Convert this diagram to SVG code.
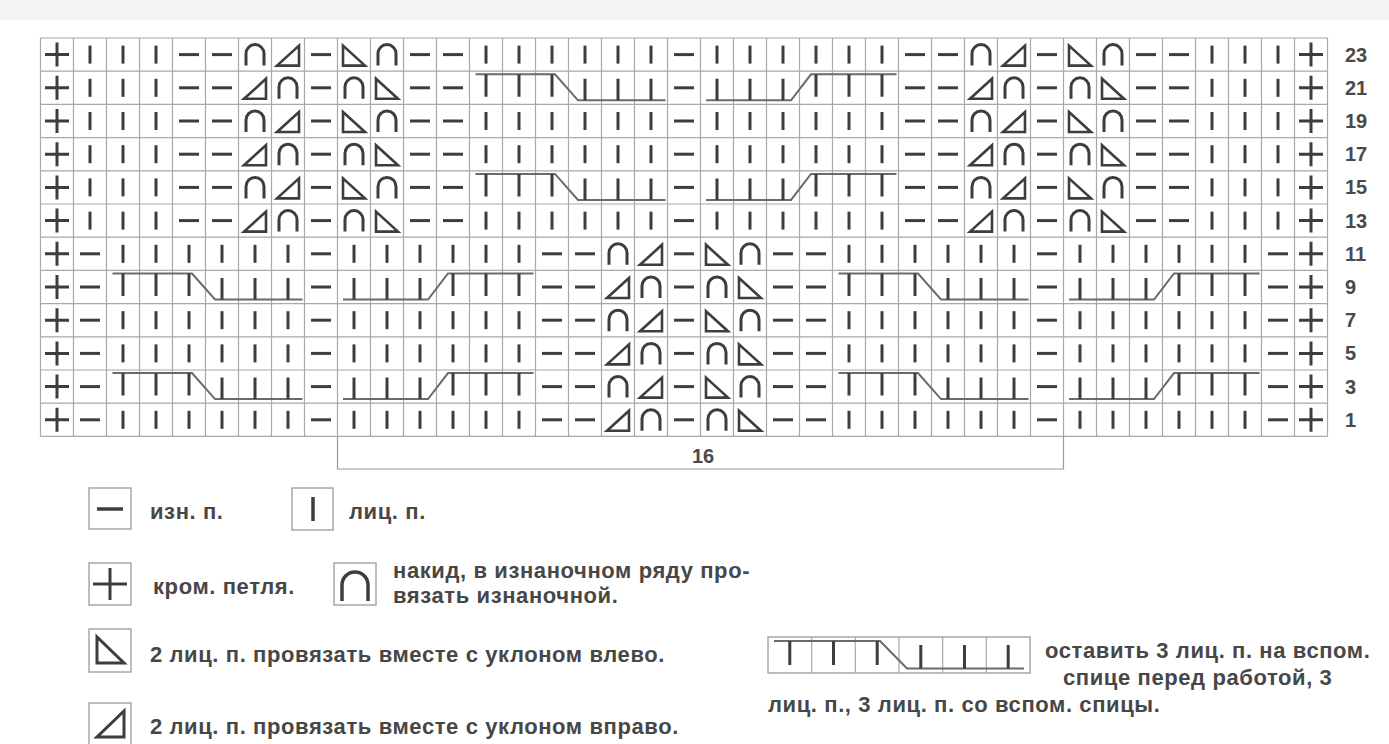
<svg xmlns="http://www.w3.org/2000/svg" xmlns:xlink="http://www.w3.org/1999/xlink" width="1389" height="744" viewBox="0 0 1389 744">
<style>
.g{stroke:#a8a8a8;stroke-width:1.2;fill:none}
.s{stroke:#3d3d3d;stroke-width:3;fill:none}
.t{stroke:#3d3d3d;stroke-width:2.6;fill:none;stroke-linejoin:miter}
.c{stroke:#6a6a6a;stroke-width:2;fill:none}
.bx{stroke:#9a9a9a;stroke-width:1.3;fill:#fff}
.num{font-family:"Liberation Sans",Arial,sans-serif;font-size:20px;font-weight:bold;fill:#4a4a4a}
.lg{font-family:"Liberation Sans",Arial,sans-serif;font-size:22px;font-weight:bold;fill:#474747;letter-spacing:0.6px}
</style>
<defs>
<path id="k" class="s" d="M0 -9V9"/>
<path id="p" class="s" d="M-10 0H10"/>
<path id="e" class="s" d="M-12 0H12M0 -12V12"/>
<path id="yo" class="s" d="M-9 11V-1A9 9 0 0 1 9 -1V11"/>
<path id="rt" class="t" d="M-11 11H11V-9Z"/>
<path id="lt" class="t" d="M-11 -9V11H11Z"/>
<g id="plain6">
<use href="#k" x="0"/><use href="#k" x="33"/><use href="#k" x="66"/><use href="#k" x="99"/><use href="#k" x="132"/><use href="#k" x="165"/>
</g>
<g id="cl">
<path class="c" d="M-10.5 -13.5H69L92 12.5H179.5"/>
<path class="s" d="M0 -13.5V9M33 -13.5V9M66 -13.5V9M99 -9V12.5M132 -9V12.5M165 -9V12.5"/>
</g>
<g id="cr">
<path class="c" d="M-11 12.5H74L94 -13.5H179.5"/>
<path class="s" d="M0 -9V12.5M33 -9V12.5M66 -9V12.5M99 -13.5V9M132 -13.5V9M165 -13.5V9"/>
</g>
<g id="rowA">
<use href="#e" x="57"/><use href="#k" x="90"/><use href="#k" x="123"/><use href="#k" x="156"/>
<use href="#p" x="189"/><use href="#p" x="222"/>
<use href="#yo" x="255"/><use href="#rt" x="288"/><use href="#p" x="321"/><use href="#lt" x="354"/><use href="#yo" x="387"/>
<use href="#p" x="420"/><use href="#p" x="453"/>
<use href="#p" x="684"/>
<use href="#p" x="915"/><use href="#p" x="948"/>
<use href="#yo" x="981"/><use href="#rt" x="1014"/><use href="#p" x="1047"/><use href="#lt" x="1080"/><use href="#yo" x="1113"/>
<use href="#p" x="1146"/><use href="#p" x="1179"/>
<use href="#k" x="1212"/><use href="#k" x="1245"/><use href="#k" x="1278"/><use href="#e" x="1311"/>
</g>
<g id="rowB">
<use href="#e" x="57"/><use href="#k" x="90"/><use href="#k" x="123"/><use href="#k" x="156"/>
<use href="#p" x="189"/><use href="#p" x="222"/>
<use href="#rt" x="255"/><use href="#yo" x="288"/><use href="#p" x="321"/><use href="#yo" x="354"/><use href="#lt" x="387"/>
<use href="#p" x="420"/><use href="#p" x="453"/>
<use href="#p" x="684"/>
<use href="#p" x="915"/><use href="#p" x="948"/>
<use href="#rt" x="981"/><use href="#yo" x="1014"/><use href="#p" x="1047"/><use href="#yo" x="1080"/><use href="#lt" x="1113"/>
<use href="#p" x="1146"/><use href="#p" x="1179"/>
<use href="#k" x="1212"/><use href="#k" x="1245"/><use href="#k" x="1278"/><use href="#e" x="1311"/>
</g>
<g id="rowC">
<use href="#e" x="57"/><use href="#p" x="90"/><use href="#p" x="321"/>
<use href="#p" x="552"/><use href="#p" x="585"/>
<use href="#yo" x="618"/><use href="#rt" x="651"/><use href="#p" x="684"/><use href="#lt" x="717"/><use href="#yo" x="750"/>
<use href="#p" x="783"/><use href="#p" x="816"/>
<use href="#p" x="1047"/><use href="#p" x="1278"/><use href="#e" x="1311"/>
</g>
<g id="rowD">
<use href="#e" x="57"/><use href="#p" x="90"/><use href="#p" x="321"/>
<use href="#p" x="552"/><use href="#p" x="585"/>
<use href="#rt" x="618"/><use href="#yo" x="651"/><use href="#p" x="684"/><use href="#yo" x="717"/><use href="#lt" x="750"/>
<use href="#p" x="783"/><use href="#p" x="816"/>
<use href="#p" x="1047"/><use href="#p" x="1278"/><use href="#e" x="1311"/>
</g>
</defs>
<rect width="1389" height="744" fill="#fff"/>
<rect width="1389" height="20" fill="#f4f4f4"/>
<g id="grid">
<path class="g" d="M40.5 38V436.4M73.5 38V436.4M106.5 38V436.4M139.5 38V436.4M172.5 38V436.4M205.5 38V436.4M238.5 38V436.4M271.5 38V436.4M304.5 38V436.4M337.5 38V436.4M370.5 38V436.4M403.5 38V436.4M436.5 38V436.4M469.5 38V436.4M502.5 38V436.4M535.5 38V436.4M568.5 38V436.4M601.5 38V436.4M634.5 38V436.4M667.5 38V436.4M700.5 38V436.4M733.5 38V436.4M766.5 38V436.4M799.5 38V436.4M832.5 38V436.4M865.5 38V436.4M898.5 38V436.4M931.5 38V436.4M964.5 38V436.4M997.5 38V436.4M1030.5 38V436.4M1063.5 38V436.4M1096.5 38V436.4M1129.5 38V436.4M1162.5 38V436.4M1195.5 38V436.4M1228.5 38V436.4M1261.5 38V436.4M1294.5 38V436.4M1327.5 38V436.4"/>
<path class="g" d="M40.5 38H1327.5M40.5 71.2H1327.5M40.5 104.4H1327.5M40.5 137.6H1327.5M40.5 170.8H1327.5M40.5 204H1327.5M40.5 237.2H1327.5M40.5 270.4H1327.5M40.5 303.6H1327.5M40.5 336.8H1327.5M40.5 370H1327.5M40.5 403.2H1327.5M40.5 436.4H1327.5"/>
</g>
<g id="row23"><use href="#rowA" y="54.6"/><use href="#plain6" x="486" y="54.6"/><use href="#plain6" x="717" y="54.6"/></g>
<g id="row21"><use href="#rowB" y="87.8"/><use href="#cl" x="486" y="87.8"/><use href="#cr" x="717" y="87.8"/></g>
<g id="row19"><use href="#rowA" y="121"/><use href="#plain6" x="486" y="121"/><use href="#plain6" x="717" y="121"/></g>
<g id="row17"><use href="#rowB" y="154.2"/><use href="#plain6" x="486" y="154.2"/><use href="#plain6" x="717" y="154.2"/></g>
<g id="row15"><use href="#rowA" y="187.4"/><use href="#cl" x="486" y="187.4"/><use href="#cr" x="717" y="187.4"/></g>
<g id="row13"><use href="#rowB" y="220.6"/><use href="#plain6" x="486" y="220.6"/><use href="#plain6" x="717" y="220.6"/></g>
<g id="row11"><use href="#rowC" y="253.8"/><use href="#plain6" x="123" y="253.8"/><use href="#plain6" x="354" y="253.8"/><use href="#plain6" x="849" y="253.8"/><use href="#plain6" x="1080" y="253.8"/></g>
<g id="row9"><use href="#rowD" y="287"/><use href="#cl" x="123" y="287"/><use href="#cr" x="354" y="287"/><use href="#cl" x="849" y="287"/><use href="#cr" x="1080" y="287"/></g>
<g id="row7"><use href="#rowC" y="320.2"/><use href="#plain6" x="123" y="320.2"/><use href="#plain6" x="354" y="320.2"/><use href="#plain6" x="849" y="320.2"/><use href="#plain6" x="1080" y="320.2"/></g>
<g id="row5"><use href="#rowD" y="353.4"/><use href="#plain6" x="123" y="353.4"/><use href="#plain6" x="354" y="353.4"/><use href="#plain6" x="849" y="353.4"/><use href="#plain6" x="1080" y="353.4"/></g>
<g id="row3"><use href="#rowC" y="386.6"/><use href="#cl" x="123" y="386.6"/><use href="#cr" x="354" y="386.6"/><use href="#cl" x="849" y="386.6"/><use href="#cr" x="1080" y="386.6"/></g>
<g id="row1"><use href="#rowD" y="419.8"/><use href="#plain6" x="123" y="419.8"/><use href="#plain6" x="354" y="419.8"/><use href="#plain6" x="849" y="419.8"/><use href="#plain6" x="1080" y="419.8"/></g>
<g id="row-numbers" class="num">
<text x="1345" y="61.6">23</text><text x="1345" y="94.8">21</text><text x="1345" y="128">19</text><text x="1345" y="161.2">17</text><text x="1345" y="194.4">15</text><text x="1345" y="227.6">13</text>
<text x="1345" y="260.8">11</text><text x="1345" y="294">9</text><text x="1345" y="327.2">7</text><text x="1345" y="360.4">5</text><text x="1345" y="393.6">3</text><text x="1345" y="426.8">1</text>
</g>
<g id="repeat">
<path d="M337.5 437V469H1063.5V437" stroke="#9a9a9a" stroke-width="1.2" fill="none"/>
<text class="num" x="703" y="463" text-anchor="middle">16</text>
</g>
<g id="legend-purl"><rect class="bx" x="89" y="488" width="42" height="41"/><path class="s" d="M97 509H123" style="stroke-width:3.5"/><text class="lg" x="150" y="519">изн. п.</text></g>
<g id="legend-knit"><rect class="bx" x="292" y="488" width="41" height="42"/><path class="s" d="M313 497V521" style="stroke-width:3.5"/><text class="lg" x="349" y="519">лиц. п.</text></g>
<g id="legend-edge"><rect class="bx" x="89" y="563" width="42" height="42"/><path class="s" d="M93 584H127M110 568V600" style="stroke-width:3"/><text class="lg" x="153" y="594">кром. петля.</text></g>
<g id="legend-yo"><rect class="bx" x="334" y="563" width="42" height="42"/><path class="s" d="M342 601V585A13 13 0 0 1 368 585V601" style="stroke-width:3.5"/><text class="lg" x="393" y="578">накид, в изнаночном ряду про-<tspan x="393" dy="25">вязать изнаночной.</tspan></text></g>
<g id="legend-left"><rect class="bx" x="89" y="629" width="42" height="43"/><path class="t" d="M97 637V663H124Z" style="stroke-width:3"/><text class="lg" x="150" y="662">2 лиц. п. провязать вместе с уклоном влево.</text></g>
<g id="legend-right"><rect class="bx" x="89" y="703" width="42" height="43"/><path class="t" d="M97 737H124V711Z" style="stroke-width:3"/><text class="lg" x="150" y="734">2 лиц. п. провязать вместе с уклоном вправо.</text></g>
<g id="legend-cable">
<rect class="bx" x="768" y="637" width="262" height="36"/>
<path class="g" d="M811.7 637V673M855.3 637V673M899 637V673M942.7 637V673M986.3 637V673"/>
<path class="c" d="M774 641H880L907 668.5H1024"/>
<path class="s" d="M789.8 641V665M833.5 641V665M877.2 641V665M920.8 645V668.5M964.5 645V668.5M1008.2 645V668.5"/>
<text class="lg" x="1045" y="658">оставить 3 лиц. п. на вспом.<tspan x="1063" dy="27">спице перед работой, 3</tspan><tspan x="768" dy="27">лиц. п., 3 лиц. п. со вспом. спицы.</tspan></text>
</g>
</svg>
